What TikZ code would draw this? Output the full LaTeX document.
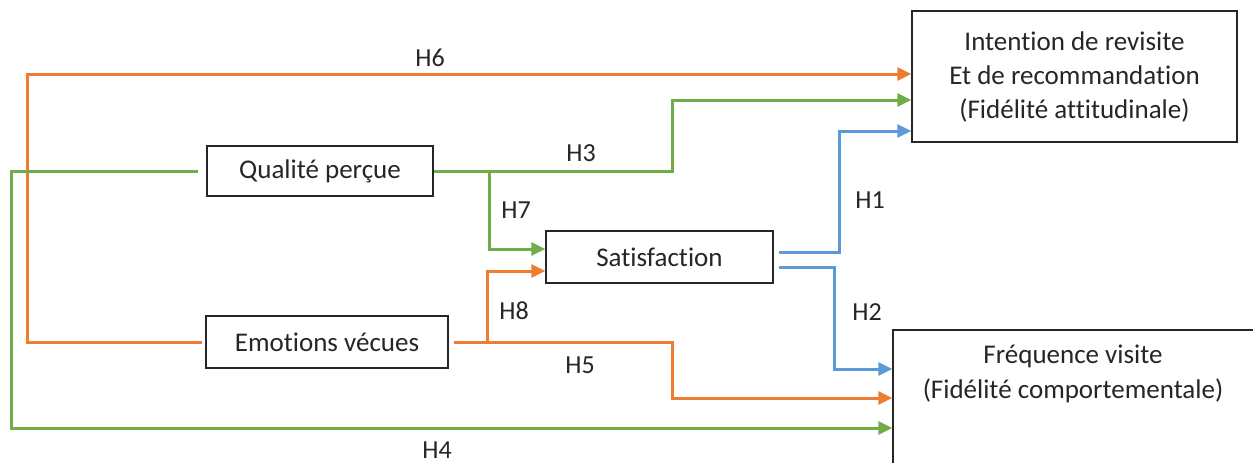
\documentclass[tikz,border=0pt]{standalone}
\usepackage{fontspec}
\setmainfont{Carlito}[RawFeature={-liga}]
\usetikzlibrary{arrows.meta}
\definecolor{corange}{HTML}{ED7D31}
\definecolor{cgreen}{HTML}{70AD47}
\definecolor{cblue}{HTML}{5B9BD5}
\begin{document}
\begin{tikzpicture}[x=1pt,y=-1pt,
  box/.style={draw=black!85,line width=1.4pt,inner sep=0pt,align=center,
    font=\fontsize{27}{34}\selectfont,text=black!85},
  link/.style={line width=3pt},
  arr/.style={-{Triangle[length=14pt,width=13pt]}},
  lab/.style={font=\fontsize{26}{30}\selectfont,text=black!85}]
\clip (0,0) rectangle (1253,463);
\fill[white] (0,0) rectangle (1253,463);
% boxes
\node[box,minimum width=325pt,minimum height=131pt] (int) at (1074.5,76.5)
  {Intention de revisite\\Et de recommandation\\(Fidélité attitudinale)};
\node[box,minimum width=226pt,minimum height=50pt] (qp) at (320,171) {Qualité perçue};
\node[box,minimum width=227pt,minimum height=52pt] (sat) at (659.5,257) {Satisfaction};
\node[box,minimum width=242pt,minimum height=52pt] (em) at (327,342) {Emotions vécues};
\node[box,minimum width=369pt,minimum height=145pt] (fr) at (1077.5,402.5) {};
\node[align=center,inner sep=0pt,font=\fontsize{27}{35}\selectfont,text=black!85] (frt) at (1073,374)
  {Fréquence visite\\(Fidélité comportementale)};
% junctions and corners
\coordinate (c6) at (27,74);
\coordinate (c4) at (11,428);
\coordinate (j1) at (489,171);
\coordinate (c3) at (672,100);
\coordinate (j2) at (487,342);
\coordinate (c5) at (672,398);
\coordinate (c1) at (839,131);
\coordinate (c2) at (834,369);
% connectors
\draw[link,corange,arr] ([xshift=-3pt]em.west) -| (c6) -- (int.west |- c6);
\draw[link,cgreen,arr] ([xshift=-8pt]qp.west) -| (c4) -- (fr.west |- c4);
\draw[link,cgreen,arr] (qp.east) -| (c3) -- (int.west |- c3);
\draw[link,cgreen,arr] (j1) |- ([yshift=8pt]sat.west);
\draw[link,corange] ([xshift=5pt]em.east) -- (j2);
\draw[link,corange,arr] (j2) |- ([yshift=-14pt]sat.west);
\draw[link,corange,arr] (j2) -| (c5) -- (fr.west |- c5);
\draw[link,cblue,arr] ([xshift=5pt,yshift=5pt]sat.east) -| (c1) -- (int.west |- c1);
\draw[link,cblue,arr] ([xshift=5pt,yshift=-10pt]sat.east) -| (c2) -- (fr.west |- c2);
% labels
\node[lab] (l6) at (430,58) {H6};
\node[lab] (l3) at (581,153) {H3};
\node[lab] (l7) at (516,210) {H7};
\node[lab] (l8) at (514,311) {H8};
\node[lab] (l5) at (580,365) {H5};
\node[lab] (l4) at (437,450) {H4};
\node[lab] (l1) at (870,200) {H1};
\node[lab] (l2) at (867,312) {H2};
\end{tikzpicture}
\end{document}
